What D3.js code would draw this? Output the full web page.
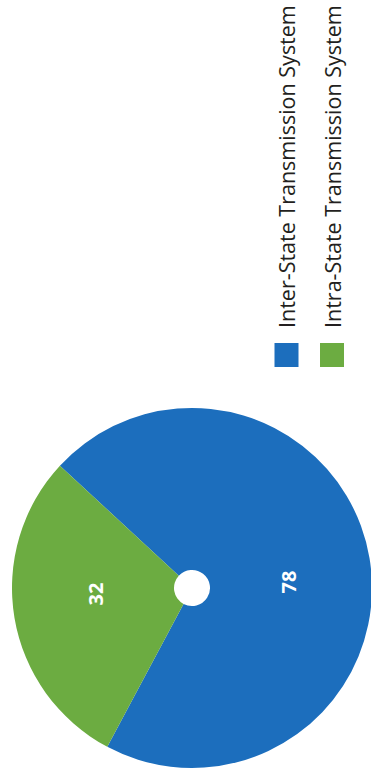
<!DOCTYPE html>
<html>
<head>
<meta charset="utf-8">
<script src="https://cdn.jsdelivr.net/npm/d3@7"></script>
<style>
  html, body { margin: 0; padding: 0; background: #fff; }
  svg { display: block; }
  text { font-family: "Open Sans", "Noto Sans", sans-serif; }
</style>
</head>
<body>
<svg id="chart" width="371" height="778"></svg>
<script>
// Transmission system split
const categories = ["Inter-State Transmission System", "Intra-State Transmission System"];
const values = [78, 32];
const colors = ["#1c6ebd", "#6cac41"];

const W = 371, H = 778;
const svg = d3.select("#chart");

// The chart is laid out in landscape and turned a quarter turn counter-clockwise
const g = svg.append("g").attr("transform", `translate(0,${H}) rotate(-90)`);

const cx = 190, cy = 192, outerR = 180, innerR = 18;
const startDeg = 42.8;
const labelShift = 6 * Math.PI / 180;

const pie = d3.pie().sort(null)
  .startAngle(startDeg * Math.PI / 180)
  .endAngle(startDeg * Math.PI / 180 + 2 * Math.PI);
const arcs = pie(values);

const arc = d3.arc().innerRadius(innerR).outerRadius(outerR);
const labelR = 97;

const pieG = g.append("g").attr("transform", `translate(${cx},${cy})`);

pieG.selectAll("path.slice")
  .data(arcs)
  .join("path")
  .attr("class", "slice")
  .attr("d", arc)
  .attr("fill", (d, i) => colors[i]);

pieG.selectAll("text.val")
  .data(arcs)
  .join("text")
  .attr("class", "val")
  .attr("x", d => labelR * Math.sin((d.startAngle + d.endAngle) / 2 + labelShift))
  .attr("y", d => -labelR * Math.cos((d.startAngle + d.endAngle) / 2 + labelShift))
  .attr("text-anchor", "middle")
  .attr("dominant-baseline", "central")
  .attr("fill", "#ffffff")
  .attr("font-weight", 700)
  .attr("font-size", 20)
  .text(d => d.data);

// Legend
const legend = g.append("g");
const rowY = [286.5, 332];
const sw = 24;
const swX = 411;

const rows = legend.selectAll("g.row")
  .data(categories)
  .join("g")
  .attr("class", "row")
  .attr("transform", (d, i) => `translate(${swX},${rowY[i]})`);

rows.append("rect")
  .attr("x", 0)
  .attr("y", -sw / 2)
  .attr("width", sw)
  .attr("height", sw)
  .attr("fill", (d, i) => colors[i]);

rows.append("text")
  .attr("x", sw + 15)
  .attr("y", 0)
  .attr("dominant-baseline", "central")
  .attr("font-size", 21.5)
  .attr("fill", "#231f20")
  .text(d => d);
</script>
</body>
</html>
